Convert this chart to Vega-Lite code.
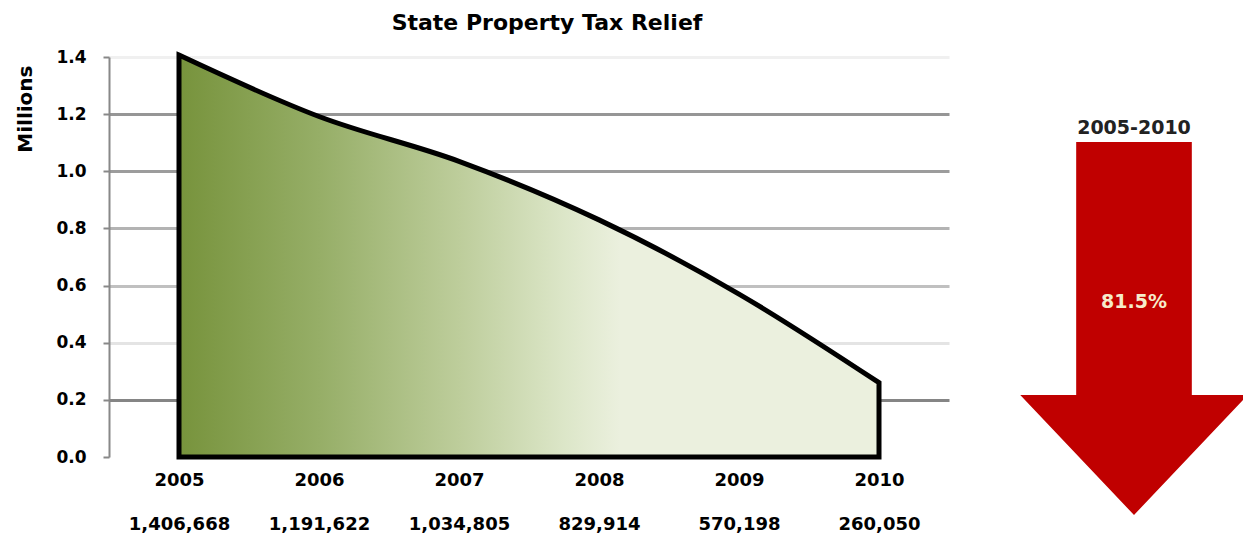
{
  "$schema": "https://vega.github.io/schema/vega-lite/v6.json",
  "background": "white",
  "padding": {"left": 15, "top": 12, "right": 0, "bottom": 0},
  "config": {"view": {"stroke": null}, "font": "DejaVu Sans", "concat": {"spacing": 71}},
  "hconcat": [
    {
      "width": 840,
      "height": 400,
      "title": {"text": "State Property Tax Relief", "fontSize": 22, "font": "DejaVu Sans", "fontWeight": "bold", "color": "black", "dx": 18, "offset": 10},
      "data": {"values": [
        {"year": "2005", "relief": 1406668},
        {"year": "2006", "relief": 1191622},
        {"year": "2007", "relief": 1034805},
        {"year": "2008", "relief": 829914},
        {"year": "2009", "relief": 570198},
        {"year": "2010", "relief": 260050}
      ]},
      "layer": [
        {
          "mark": {
            "type": "area",
            "interpolate": "monotone",
            "stroke": "black",
            "strokeWidth": 5,
            "strokeJoin": "miter",
            "fill": {
              "gradient": "linear",
              "x1": 0, "x2": 1, "y1": 0, "y2": 0,
              "stops": [
                {"offset": 0, "color": "#77933c"},
                {"offset": 0.2, "color": "#96ae67"},
                {"offset": 0.4, "color": "#bdcd9b"},
                {"offset": 0.55, "color": "#dce6c8"},
                {"offset": 0.63, "color": "#ebf0de"},
                {"offset": 1, "color": "#ebf0de"}
              ]
            }
          },
          "encoding": {
            "x": {
              "field": "year", "type": "ordinal",
              "scale": {"type": "point", "padding": 0.5},
              "axis": {"title": null, "domain": false, "ticks": false, "labelAngle": 0, "labelPadding": 14, "labelFontSize": 18, "labelFontWeight": "bold", "labelColor": "black", "labelOverlap": false}
            },
            "y": {
              "field": "relief", "type": "quantitative",
              "scale": {"domain": [0, 1400000], "nice": false},
              "axis": {
                "values": [0, 200000, 400000, 600000, 800000, 1000000, 1200000, 1400000],
                "labelExpr": "format(datum.value / 1000000, '.1f')",
                "title": "Millions", "titleFontSize": 20, "titleFontWeight": "bold", "titleColor": "black", "titlePadding": 20,
                "titleAnchor": "end", "titleY": 8,
                "labelFontSize": 17, "labelFontWeight": "bold", "labelColor": "black", "labelPadding": 17,
                "tickSize": 6, "tickColor": "#888888", "tickWidth": 2,
                "domainColor": "#888888", "domainWidth": 2,
                "grid": true, "gridWidth": 3,
                "gridColor": {
                  "condition": [
                    {"test": "datum.value === 1400000", "value": "#f0f0f0"},
                    {"test": "datum.value === 1200000", "value": "#969696"},
                    {"test": "datum.value === 1000000", "value": "#9c9c9c"},
                    {"test": "datum.value === 800000", "value": "#b3b3b3"},
                    {"test": "datum.value === 600000", "value": "#c0c0c0"},
                    {"test": "datum.value === 400000", "value": "#e4e4e4"},
                    {"test": "datum.value === 200000", "value": "#858585"}
                  ],
                  "value": "transparent"
                }
              }
            }
          }
        },
        {
          "mark": {"type": "point", "opacity": 0},
          "encoding": {
            "x": {
              "field": "relief", "type": "nominal", "sort": "descending",
              "scale": {"type": "point", "padding": 0.5},
              "axis": {"orient": "bottom", "title": null, "domain": false, "ticks": false, "grid": false, "labelAngle": 0, "labelPadding": 58, "labelFontSize": 18, "labelFontWeight": "bold", "labelColor": "black", "labelOverlap": false, "labelExpr": "format(datum.value, ',')"}
            }
          }
        }
      ],
      "resolve": {"scale": {"x": "independent"}, "axis": {"x": "independent"}}
    },
    {
      "width": 220,
      "height": 400,
      "data": {"values": [{"period": "2005-2010", "change": "81.5%"}]},
      "layer": [
        {
          "mark": {"type": "point", "shape": "M -0.31 -1 L 0.31 -1 L 0.31 0.357 L 0.61 0.357 L 0 1 L -0.61 0.357 L -0.31 0.357 Z", "size": 139129, "filled": true, "fill": "#c00000", "strokeWidth": 0, "opacity": 1, "yOffset": 71.5},
          "encoding": {}
        },
        {
          "mark": {"type": "text", "dy": -129, "fontSize": 19, "fontWeight": "bold", "color": "#222222", "baseline": "middle"},
          "encoding": {"text": {"field": "period"}}
        },
        {
          "mark": {"type": "text", "dy": 45, "fontSize": 19, "fontWeight": "bold", "color": "#f6ebcb", "baseline": "middle"},
          "encoding": {"text": {"field": "change"}}
        }
      ]
    }
  ]
}
